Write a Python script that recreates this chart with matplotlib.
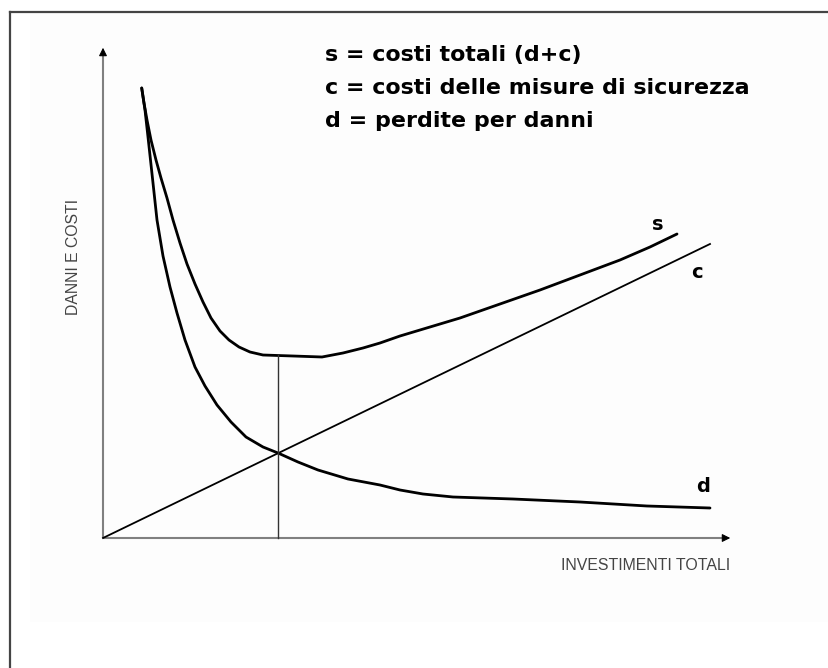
import matplotlib.pyplot as plt
from matplotlib.patches import Rectangle

# dati (unita' arbitrarie, origine = incrocio degli assi)
c_x = [0, 607]
c_y = [0, 294]

s_x = [38.7, 41, 44, 48, 53, 58, 64, 70, 77, 84, 92, 100, 108, 117, 126, 136, 147, 160, 190, 219, 240, 260, 277, 297, 327, 357, 397, 437, 477, 517, 547, 574]
s_y = [450, 435, 418, 398, 378, 360, 340, 318, 295, 274, 254, 236, 220, 207, 198, 191, 186, 183, 182, 181, 185, 190, 195, 202, 211, 220, 234, 248, 263, 278, 291, 304]

d_x = [38.7, 42, 45, 50, 54, 60, 67, 74, 82, 92, 102, 114, 128, 143, 160, 175, 195, 215, 245, 277, 297, 320, 350, 410, 477, 544, 607]
d_y = [450, 428, 401, 355, 318, 282, 251, 225, 198, 171, 152, 133, 116, 101, 91, 85, 76, 68, 59, 53, 48, 44, 41, 39, 36, 32, 30]

x_opt = 175          # investimento ottimale (minimo di s)
s_min = 183

legenda = ['s = costi totali (d+c)', 'c = costi delle misure di sicurezza', 'd = perdite per danni']
etichetta_y = 'DANNI E COSTI'
etichetta_x = 'INVESTIMENTI TOTALI'

plt.rcParams['font.family'] = ['DejaVu Sans']
font_assi = ['Liberation Sans', 'DejaVu Sans']

fig = plt.figure(figsize=(8.29, 6.68), dpi=100)
ax = fig.add_axes([0, 0, 1, 1])
ax.set_xlim(-103, 726)
ax.set_ylim(-130, 538)
ax.axis('off')

# cornice e sfondo leggermente grigio
ax.add_patch(Rectangle((30 / 829, 1 - 622 / 668), 1, 609 / 668, transform=fig.transFigure,
                       facecolor='#fdfdfd', edgecolor='none', zorder=0))
ax.plot([10 / 829, 10 / 829], [0, 1 - 12 / 668], transform=fig.transFigure, color='#444444', lw=1.6, zorder=1)
ax.plot([10 / 829, 1], [1 - 12 / 668, 1 - 12 / 668], transform=fig.transFigure, color='#444444', lw=1.6, zorder=1)

# assi con frecce
ax.plot([0, 0], [0, 488], color='#808080', lw=1.5, solid_capstyle='butt')
ax.plot([0, 625], [0, 0], color='#808080', lw=1.5, solid_capstyle='butt')
ax.annotate('', xy=(0, 493), xytext=(0, 483), arrowprops=dict(arrowstyle='-|>', color='black', lw=0.8, mutation_scale=12))
ax.annotate('', xy=(630, 0), xytext=(620, 0), arrowprops=dict(arrowstyle='-|>', color='black', lw=0.8, mutation_scale=12))

# curve
ax.plot(c_x, c_y, color='black', lw=1.3)
ax.plot(s_x, s_y, color='black', lw=2.0, solid_capstyle='round', solid_joinstyle='round')
ax.plot(d_x, d_y, color='black', lw=2.0, solid_capstyle='round', solid_joinstyle='round')
ax.plot([x_opt, x_opt], [0, s_min], color='#333333', lw=1.0)

# etichette delle curve
ax.text(555, 313, 's', fontsize=14, fontweight='bold', ha='center', va='center')
ax.text(594, 266, 'c', fontsize=14, fontweight='bold', ha='center', va='center')
ax.text(600, 51, 'd', fontsize=14, fontweight='bold', ha='center', va='center')

# legenda testuale
for i, riga in enumerate(legenda):
    ax.text(222, 483 - i * 33, riga, fontsize=15.9, fontweight='bold', ha='left', va='center')

ax.text(-30, 281, etichetta_y, fontsize=11.3, rotation=90, ha='center', va='center', color='#444444', family=font_assi)
ax.text(543, -27, etichetta_x, fontsize=11.4, ha='center', va='center', color='#444444', family=font_assi)

fig.savefig('out.png', dpi=100)
